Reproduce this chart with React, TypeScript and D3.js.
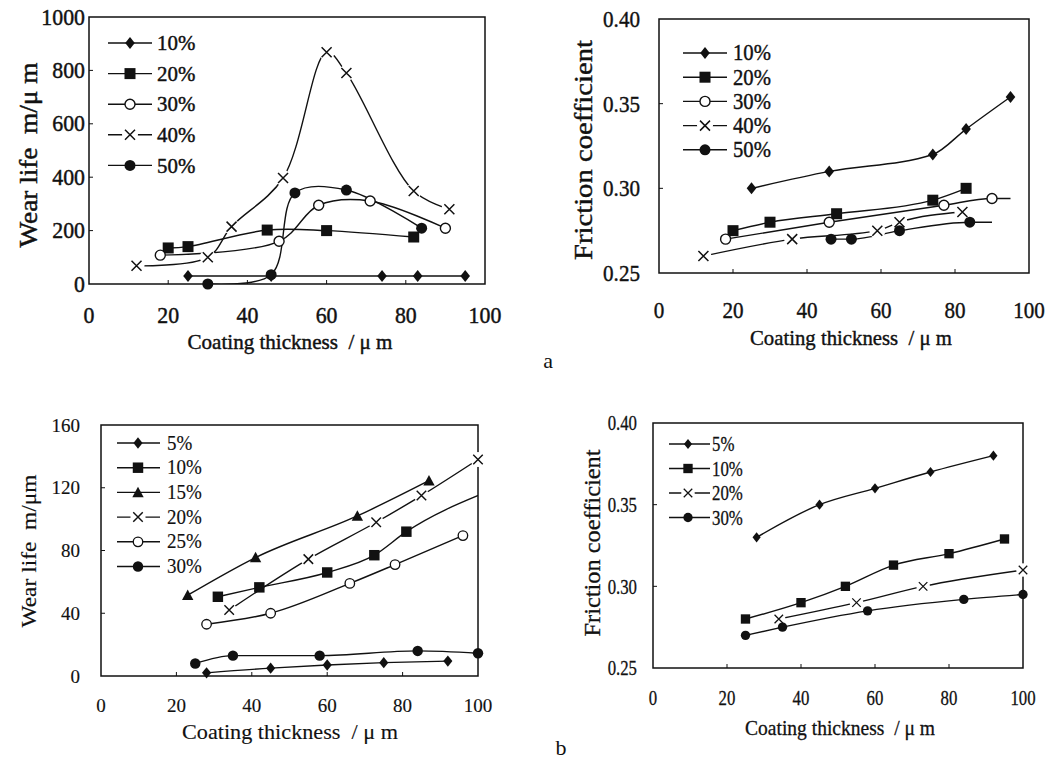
import React, { useEffect, useRef } from "react";
import * as d3 from "d3";

type Pt = [number, number];

const thickTicks = [0, 20, 40, 60, 80, 100];
const wearTicksA = [0, 200, 400, 600, 800, 1000];
const frictionTicks = [0.25, 0.3, 0.35, 0.4];
const wearTicksB = [0, 40, 80, 120, 160];

const labelsA = ["10%", "20%", "30%", "40%", "50%"];
const labelsWearB = ["5%", "10%", "15%", "20%", "25%", "30%"];
const labelsFricB = ["5%", "10%", "20%", "30%"];

// a, left: wear life
const wearA10: Pt[] = [[25, 30], [46, 30], [74, 30], [83, 30], [95, 30]];
const wearA20: Pt[] = [[20, 135], [25, 140], [45, 202], [60, 200], [82, 176]];
const wearA30: Pt[] = [[18, 108], [48, 160], [58, 295], [71, 311], [90, 209]];
const wearA40: Pt[] = [[12, 68], [30, 100], [36, 215], [49, 397], [60, 868], [65, 790], [82, 348], [91, 280]];
const wearA50: Pt[] = [[30, 0], [46, 35], [52, 341], [65, 352], [84, 209]];

// a, right: friction coefficient
const fricA10: Pt[] = [[25, 0.3], [46, 0.31], [74, 0.32], [83, 0.335], [95, 0.354]];
const fricA20: Pt[] = [[20, 0.275], [30, 0.28], [48, 0.285], [74, 0.293], [83, 0.3]];
const fricA30: Pt[] = [[18, 0.27], [46, 0.28], [77, 0.29], [90, 0.294]];
const fricA30Tail: Pt[] = [[95, 0.294]];
const fricA40: Pt[] = [[12, 0.26], [36, 0.27], [59, 0.275], [65, 0.28], [82, 0.286]];
const fricA50: Pt[] = [[46.5, 0.27], [52, 0.27], [65, 0.275], [84, 0.28]];
const fricA50Tail: Pt[] = [[90, 0.28]];

// b, left: wear life
const wearB5: Pt[] = [[28, 2], [45, 5], [60, 7], [75, 8.5], [92, 9.5]];
const wearB10: Pt[] = [[31, 50.5], [42, 56.5], [60, 66], [72.5, 77], [81, 92]];
const wearB10Tail: Pt[] = [[102, 117]];
const wearB15: Pt[] = [[23, 51.5], [41, 75.5], [68, 102], [87, 124.5]];
const wearB20: Pt[] = [[34, 42], [55, 74.5], [73, 98], [85, 115], [100, 138]];
const wearB25: Pt[] = [[28, 33], [45, 40], [66, 59], [78, 71], [96, 89.5]];
const wearB30: Pt[] = [[25, 8], [35, 13], [58, 13], [84, 16], [100, 14.5]];

// b, right: friction coefficient
const fricB5: Pt[] = [[28, 0.33], [45, 0.35], [60, 0.36], [75, 0.37], [92, 0.38]];
const fricB10: Pt[] = [[25, 0.28], [40, 0.29], [52, 0.3], [65, 0.313], [80, 0.32], [95, 0.329]];
const fricB20: Pt[] = [[34, 0.28], [55, 0.29], [73, 0.3], [100, 0.31]];
const fricB30: Pt[] = [[25, 0.27], [35, 0.275], [58, 0.285], [84, 0.292], [100, 0.295]];

const SERIF = "'Liberation Serif', 'DejaVu Serif', serif";
const INK = "#111";

type Shape = "diamond" | "square" | "circle" | "dot" | "triangle" | "x";

const panels = [
  {
    key: "aw", left: 89, right: 485, top: 17, bottom: 284, heavy: 0.45,
    yDomain: [0, 1000], yTicks: wearTicksA, yFmt: (d: number) => String(d),
    tickSize: 23, tickSx: 0.95, yLabelX: 85, xLabelY: 315,
    curve: d3.curveCatmullRom.alpha(0.5), ms: 1,
    legend: { x0: 108, x1: 152, mx: 130, tx: 157, y0: 43, dy: 30.6, size: 22, sx: 0.95 },
    yTitle: { x: 28, y: 155, size: 25, len: 185, text: "Wear life  m/\u03bc m" },
    xTitle: { x: 290, y: 341, size: 22, len: 205, text: "Coating thickness  / \u03bc m" },
    series: [
      { label: labelsA[0], shape: "diamond", pts: wearA10, tail: [] as Pt[] },
      { label: labelsA[1], shape: "square", pts: wearA20, tail: [] as Pt[] },
      { label: labelsA[2], shape: "circle", pts: wearA30, tail: [] as Pt[] },
      { label: labelsA[3], shape: "x", pts: wearA40, tail: [] as Pt[] },
      { label: labelsA[4], shape: "dot", pts: wearA50, tail: [] as Pt[] },
    ],
  },
  {
    key: "af", left: 659, right: 1029, top: 19, bottom: 273, heavy: 0.4,
    yDomain: [0.25, 0.4], yTicks: frictionTicks, yFmt: d3.format(".2f"),
    tickSize: 24, tickSx: 0.88, yLabelX: 640, xLabelY: 310,
    curve: d3.curveMonotoneX, ms: 1,
    legend: { x0: 683, x1: 727, mx: 705, tx: 733, y0: 53, dy: 24.2, size: 23, sx: 0.9 },
    yTitle: { x: 583, y: 150, size: 26, len: 220, text: "Friction coefficient" },
    xTitle: { x: 851, y: 337, size: 22, len: 202, text: "Coating thickness  / \u03bc m" },
    series: [
      { label: labelsA[0], shape: "diamond", pts: fricA10, tail: [] as Pt[] },
      { label: labelsA[1], shape: "square", pts: fricA20, tail: [] as Pt[] },
      { label: labelsA[2], shape: "circle", pts: fricA30, tail: fricA30Tail },
      { label: labelsA[3], shape: "x", pts: fricA40, tail: [] as Pt[] },
      { label: labelsA[4], shape: "dot", pts: fricA50, tail: fricA50Tail },
    ],
  },
  {
    key: "bw", left: 101, right: 478, top: 425, bottom: 676, heavy: 0.15,
    yDomain: [0, 160], yTicks: wearTicksB, yFmt: (d: number) => String(d),
    tickSize: 19, tickSx: 1, yLabelX: 80, xLabelY: 705,
    curve: d3.curveMonotoneX, ms: 0.95,
    legend: { x0: 117, x1: 160, mx: 138, tx: 167, y0: 443, dy: 24.7, size: 20, sx: 0.95 },
    yTitle: { x: 29, y: 551, size: 21, len: 153, text: "Wear life  m/\u03bcm" },
    xTitle: { x: 290, y: 731, size: 22, len: 216, text: "Coating thickness  / \u03bc m" },
    series: [
      { label: labelsWearB[0], shape: "diamond", pts: wearB5, tail: [] as Pt[] },
      { label: labelsWearB[1], shape: "square", pts: wearB10, tail: wearB10Tail },
      { label: labelsWearB[2], shape: "triangle", pts: wearB15, tail: [] as Pt[] },
      { label: labelsWearB[3], shape: "x", pts: wearB20, tail: [] as Pt[] },
      { label: labelsWearB[4], shape: "circle", pts: wearB25, tail: [] as Pt[] },
      { label: labelsWearB[5], shape: "dot", pts: wearB30, tail: [] as Pt[] },
    ],
  },
  {
    key: "bf", left: 653, right: 1023, top: 423, bottom: 668, heavy: 0.3,
    yDomain: [0.25, 0.4], yTicks: frictionTicks, yFmt: d3.format(".2f"),
    tickSize: 21, tickSx: 0.8, yLabelX: 637, xLabelY: 698,
    curve: d3.curveMonotoneX, ms: 0.85,
    legend: { x0: 669, x1: 710, mx: 688, tx: 712, y0: 444, dy: 24.5, size: 21, sx: 0.8 },
    yTitle: { x: 592, y: 543, size: 23, len: 187, text: "Friction coefficient" },
    xTitle: { x: 840, y: 727, size: 22, len: 190, text: "Coating thickness  / \u03bc m" },
    series: [
      { label: labelsFricB[0], shape: "diamond", pts: fricB5, tail: [] as Pt[] },
      { label: labelsFricB[1], shape: "square", pts: fricB10, tail: [] as Pt[] },
      { label: labelsFricB[2], shape: "x", pts: fricB20, tail: [] as Pt[] },
      { label: labelsFricB[3], shape: "dot", pts: fricB30, tail: [] as Pt[] },
    ],
  },
];

const text = (g: any, x: number, y: number, s: string, size: number, anchor: string, sx = 1, rot = 0, len?: number, heavy = 0) => {
  const t = g
    .append("text")
    .attr("transform", `translate(${x},${y}) rotate(${rot}) scale(${sx},1)`)
    .attr("font-family", SERIF)
    .attr("font-size", size)
    .attr("fill", INK)
    .attr("text-anchor", anchor)
    .attr("dominant-baseline", "central")
    .style("white-space", "pre")
    .text(s);
  if (heavy > 0) t.attr("stroke", INK).attr("stroke-width", heavy);
  if (len) t.attr("textLength", len).attr("lengthAdjust", "spacingAndGlyphs");
  return t;
};

const marker = (g: any, shape: Shape, cx: number, cy: number, k: number) => {
  const m = g.append("g").attr("transform", `translate(${cx},${cy}) scale(${k})`);
  if (shape === "diamond") {
    m.append("path").attr("d", "M0,-6L4.8,0L0,6L-4.8,0Z").attr("fill", INK);
  } else if (shape === "square") {
    m.append("rect").attr("x", -5.5).attr("y", -5.5).attr("width", 11).attr("height", 11).attr("fill", INK);
  } else if (shape === "circle") {
    m.append("circle").attr("r", 5).attr("fill", "#fff").attr("stroke", INK).attr("stroke-width", 1.4);
  } else if (shape === "dot") {
    m.append("circle").attr("r", 5.5).attr("fill", INK);
  } else if (shape === "triangle") {
    m.append("path").attr("d", "M0,-6L6,5L-6,5Z").attr("fill", INK);
  } else {
    m.append("circle").attr("r", 8).attr("fill", "#fff");
    m.append("path").attr("d", "M-5,-5L5,5M5,-5L-5,5").attr("stroke", INK).attr("stroke-width", 1.5);
  }
};

export default function App() {
  const svgRef = useRef<SVGSVGElement>(null);

  useEffect(() => {
    const svg = d3.select(svgRef.current);
    svg.selectAll("*").remove();

    panels.forEach((p) => {
      const x = d3.scaleLinear().domain([0, 100]).range([p.left, p.right]);
      const y = d3.scaleLinear().domain(p.yDomain).range([p.bottom, p.top]);
      const g = svg.append("g");
      const clipId = `clip-${p.key}`;
      g.append("clipPath")
        .attr("id", clipId)
        .append("rect")
        .attr("x", p.left)
        .attr("y", p.top)
        .attr("width", p.right - p.left)
        .attr("height", p.bottom - p.top);

      g.append("rect")
        .attr("x", p.left)
        .attr("y", p.top)
        .attr("width", p.right - p.left)
        .attr("height", p.bottom - p.top)
        .attr("fill", "none")
        .attr("stroke", INK)
        .attr("stroke-width", 1.5);

      // inner ticks
      thickTicks.slice(1, -1).forEach((t) => {
        g.append("line")
          .attr("x1", x(t)).attr("x2", x(t))
          .attr("y1", p.bottom).attr("y2", p.bottom - 4)
          .attr("stroke", INK).attr("stroke-width", 1);
      });
      p.yTicks.slice(1, -1).forEach((t) => {
        g.append("line")
          .attr("x1", p.left).attr("x2", p.left + 4)
          .attr("y1", y(t)).attr("y2", y(t))
          .attr("stroke", INK).attr("stroke-width", 1);
      });

      thickTicks.forEach((t) => text(g, x(t), p.xLabelY, String(t), p.tickSize, "middle", p.tickSx, 0, undefined, p.heavy));
      p.yTicks.forEach((t) => text(g, p.yLabelX, y(t), p.yFmt(t), p.tickSize, "end", p.tickSx, 0, undefined, p.heavy));

      text(g, p.yTitle.x, p.yTitle.y, p.yTitle.text, p.yTitle.size, "middle", 1, -90, p.yTitle.len, p.heavy);
      text(g, p.xTitle.x, p.xTitle.y, p.xTitle.text, p.xTitle.size, "middle", 1, 0, p.xTitle.len, p.heavy);

      const line = d3
        .line<Pt>()
        .x((d) => x(d[0]))
        .y((d) => y(d[1]))
        .curve(p.curve);

      p.series.forEach((s) => {
        g.append("path")
          .attr("d", line([...s.pts, ...s.tail]))
          .attr("fill", "none")
          .attr("stroke", INK)
          .attr("stroke-width", 1.4)
          .attr("clip-path", `url(#${clipId})`);
      });
      p.series.forEach((s) => {
        s.pts.forEach((d) => marker(g, s.shape as Shape, x(d[0]), y(d[1]), p.ms));
      });

      // legend
      const L = p.legend;
      p.series.forEach((s, i) => {
        const ly = L.y0 + i * L.dy;
        g.append("line")
          .attr("x1", L.x0).attr("x2", L.x1)
          .attr("y1", ly).attr("y2", ly)
          .attr("stroke", INK).attr("stroke-width", 1.4);
        marker(g, s.shape as Shape, L.mx, ly, p.ms);
        text(g, L.tx, ly, s.label, L.size, "start", L.sx, 0, undefined, p.heavy);
      });
    });

    text(svg, 548, 360, "a", 22, "middle");
    text(svg, 561, 747, "b", 22, "middle");
  }, []);

  return (
    <svg
      ref={svgRef}
      width={1048}
      height={759}
      style={{ position: "absolute", left: 0, top: 0, background: "#fff" }}
    />
  );
}
